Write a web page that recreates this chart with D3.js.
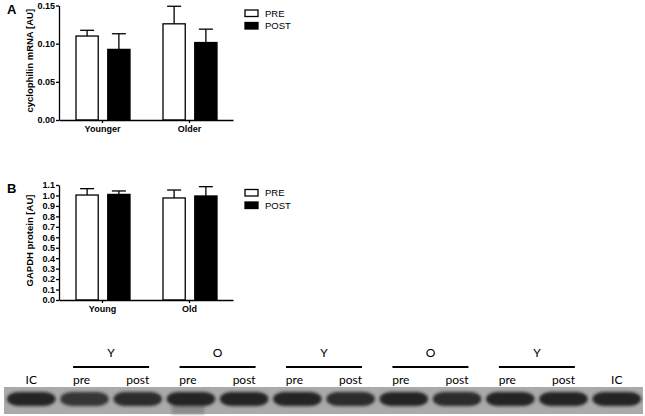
<!DOCTYPE html>
<html>
<head>
<meta charset="utf-8">
<script src="https://cdn.jsdelivr.net/npm/d3@7"></script>
<style>
  body { margin: 0; background: #fff; }
  svg { display: block; font-family: "Liberation Sans", Arial, sans-serif; }
  .axis path, .axis line { stroke: #000; stroke-width: 1.3; }
  .axis text { font-size: 9px; font-weight: bold; fill: #000; }
</style>
</head>
<body>
<svg width="645" height="416"></svg>
<script>
var width = 645;
var height = 416;

// panel A - cyclophilin mRNA
var groupsA = ["Younger", "Older"];
var cycloPre = [0.110, 0.126];
var cycloPreErr = [0.0075, 0.023];
var cycloPost = [0.0925, 0.1015];
var cycloPostErr = [0.0205, 0.0175];
var ticksA = [0, 0.05, 0.10, 0.15];

// panel B - GAPDH protein
var groupsB = ["Young", "Old"];
var gapdhPre = [1.004, 0.976];
var gapdhPreErr = [0.061, 0.076];
var gapdhPost = [1.010, 0.995];
var gapdhPostErr = [0.033, 0.089];
var ticksB = d3.range(0, 12).map(d => d / 10);

var series = ["PRE", "POST"];
var seriesFill = ["#fff", "#000"];

// western blot lanes
var lanes = ["IC", "pre", "post", "pre", "post", "pre", "post", "pre", "post", "pre", "post", "IC"];
var laneGroups = ["Y", "O", "Y", "O", "Y"];
var laneShade = [0.95, 0.8, 0.9, 0.95, 0.95, 0.95, 0.9, 0.95, 0.9, 0.95, 0.95, 0.95];

var svg = d3.select("svg");

var defs = svg.append("defs");
defs.append("filter")
    .attr("id", "blur")
    .attr("x", "-20%").attr("y", "-60%")
    .attr("width", "140%").attr("height", "220%")
  .append("feGaussianBlur")
    .attr("stdDeviation", 1.6);

function drawPanel(cfg) {
    var g = svg.append("g");

    var x = d3.scaleBand()
        .domain(cfg.groups)
        .range([cfg.left, cfg.right]);
    var xInner = d3.scaleBand()
        .domain(series)
        .range([17, 71])
        .paddingInner(0.3);
    var y = d3.scaleLinear()
        .domain(cfg.domain)
        .range([cfg.bottom, cfg.top]);

    var rows = [];
    cfg.groups.forEach((grp, i) => {
        rows.push({group: grp, s: 0, v: cfg.pre[i], e: cfg.preErr[i]});
        rows.push({group: grp, s: 1, v: cfg.post[i], e: cfg.postErr[i]});
    });

    // error bars (upper only), drawn under bars
    var err = g.selectAll(".err")
        .data(rows)
        .enter()
        .append("g")
        .attr("class", "err");
    err.append("line")
        .attr("x1", d => x(d.group) + xInner(series[d.s]) + xInner.bandwidth() / 2)
        .attr("x2", d => x(d.group) + xInner(series[d.s]) + xInner.bandwidth() / 2)
        .attr("y1", d => y(d.v))
        .attr("y2", d => y(d.v + d.e))
        .attr("stroke", "#000")
        .attr("stroke-width", 1.3);
    err.append("line")
        .attr("x1", d => x(d.group) + xInner(series[d.s]) + xInner.bandwidth() / 2 - 7)
        .attr("x2", d => x(d.group) + xInner(series[d.s]) + xInner.bandwidth() / 2 + 7)
        .attr("y1", d => y(d.v + d.e))
        .attr("y2", d => y(d.v + d.e))
        .attr("stroke", "#000")
        .attr("stroke-width", 1.3);

    g.selectAll("rect.bar")
        .data(rows)
        .enter()
        .append("rect")
        .attr("class", "bar")
        .attr("x", d => x(d.group) + xInner(series[d.s]))
        .attr("y", d => y(d.v))
        .attr("width", xInner.bandwidth())
        .attr("height", d => y(0) - y(d.v))
        .attr("fill", d => seriesFill[d.s])
        .attr("stroke", "#000")
        .attr("stroke-width", 1.3);

    g.append("g")
        .attr("class", "axis")
        .attr("transform", `translate(0, ${cfg.bottom})`)
        .call(d3.axisBottom(x).tickSize(3).tickSizeOuter(0).tickPadding(3))
        .selectAll("text")
        .attr("font-size", "9.5px");

    g.append("g")
        .attr("class", "axis")
        .attr("transform", `translate(${cfg.left}, 0)`)
        .call(d3.axisLeft(y).tickValues(cfg.ticks).tickFormat(d3.format(cfg.fmt)).tickSize(3).tickSizeOuter(0).tickPadding(1));

    g.append("text")
        .attr("transform", "rotate(-90)")
        .attr("x", -(cfg.top + cfg.bottom) / 2 + 2)
        .attr("y", 33)
        .attr("text-anchor", "middle")
        .attr("font-size", "9.5px")
        .attr("font-weight", "bold")
        .text(cfg.ylabel);

    g.append("text")
        .attr("x", 7)
        .attr("y", cfg.top + 8)
        .attr("font-size", "13px")
        .attr("font-weight", "bold")
        .text(cfg.letter);

    // legend
    var leg = g.selectAll(".leg")
        .data(series)
        .enter()
        .append("g")
        .attr("class", "leg")
        .attr("transform", (d, i) => `translate(245, ${cfg.top + 4.5 + i * 12.5})`);
    leg.append("rect")
        .attr("width", 13)
        .attr("height", 6.5)
        .attr("fill", (d, i) => seriesFill[i])
        .attr("stroke", "#000")
        .attr("stroke-width", 1.3);
    leg.append("text")
        .attr("x", 20)
        .attr("y", 3.3)
        .attr("dy", "0.35em")
        .attr("font-size", "9.5px")
        .text(d => d);
}

drawPanel({
    letter: "A", groups: groupsA, pre: cycloPre, preErr: cycloPreErr,
    post: cycloPost, postErr: cycloPostErr, domain: [0, 0.15], ticks: ticksA, fmt: ".2f",
    left: 59, right: 233, top: 5.5, bottom: 120, ylabel: "cyclophilin mRNA [AU]"
});

drawPanel({
    letter: "B", groups: groupsB, pre: gapdhPre, preErr: gapdhPreErr,
    post: gapdhPost, postErr: gapdhPostErr, domain: [0, 1.1], ticks: ticksB, fmt: ".1f",
    left: 59, right: 233, top: 185, bottom: 300, ylabel: "GAPDH protein [AU]"
});

// western blot
var laneScale = d3.scaleBand()
    .domain(d3.range(lanes.length))
    .range([6, 642])
    .paddingInner(0.05);

var blot = svg.append("g");

blot.append("rect")
    .attr("x", 4)
    .attr("y", 387)
    .attr("width", 639)
    .attr("height", 27)
    .attr("fill", "#aaaaaa");

// smear under O pre lane
blot.append("rect")
    .attr("x", laneScale(3) + 6)
    .attr("y", 404)
    .attr("width", laneScale.bandwidth() - 18)
    .attr("height", 10)
    .attr("fill", "#8c8c8c")
    .attr("filter", "url(#blur)");

blot.selectAll(".band")
    .data(lanes)
    .enter()
    .append("rect")
    .attr("class", "band")
    .attr("x", (d, i) => laneScale(i) + 1)
    .attr("y", 392)
    .attr("width", laneScale.bandwidth() - 2)
    .attr("height", 14)
    .attr("rx", 12)
    .attr("ry", 7)
    .attr("fill", "#1c1c1c")
    .attr("fill-opacity", (d, i) => laneShade[i])
    .attr("filter", "url(#blur)");

blot.selectAll(".laneLabel")
    .data(lanes)
    .enter()
    .append("text")
    .attr("class", "laneLabel")
    .attr("x", (d, i) => laneScale(i) + laneScale.bandwidth() / 2 + (d == "pre" ? -3 : 0))
    .attr("y", 384)
    .attr("text-anchor", "middle")
    .attr("font-family", "Lato, 'Open Sans', sans-serif")
    .attr("font-size", "12px")
    .text(d => d);

// group bars over pre/post pairs
var pairs = blot.selectAll(".pair")
    .data(laneGroups)
    .enter()
    .append("g")
    .attr("class", "pair")
    .attr("transform", (d, i) => `translate(${laneScale(1 + i * 2) + laneScale.step() - laneScale.step() * laneScale.paddingInner() / 2}, 0)`);
pairs.append("line")
    .attr("x1", -38)
    .attr("x2", 38)
    .attr("y1", 367)
    .attr("y2", 367)
    .attr("stroke", "#000")
    .attr("stroke-width", 2);
pairs.append("text")
    .attr("y", 357)
    .attr("text-anchor", "middle")
    .attr("font-family", "Lato, 'Open Sans', sans-serif")
    .attr("font-size", "12px")
    .text(d => d);
</script>
</body>
</html>
